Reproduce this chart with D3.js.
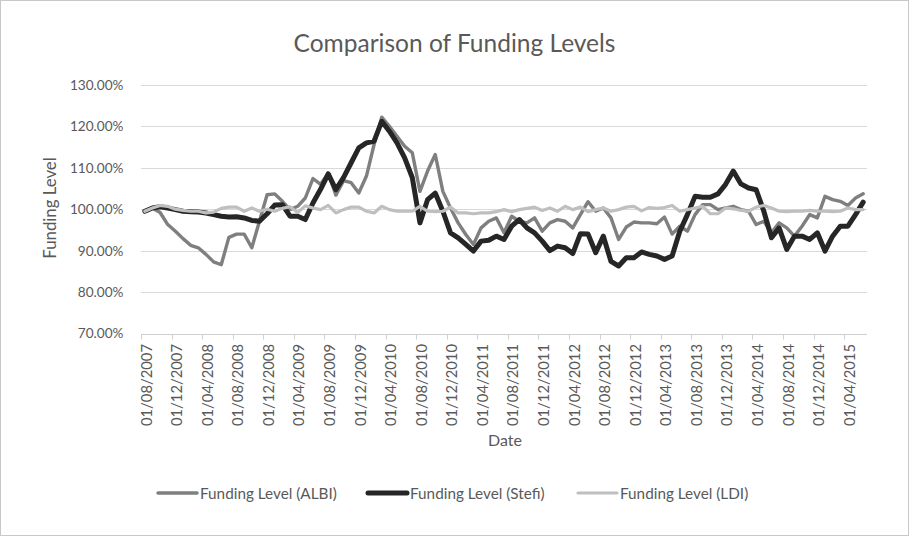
<!DOCTYPE html>
<html>
<head>
<meta charset="utf-8">
<script src="https://cdn.jsdelivr.net/npm/d3@7"></script>
<style>
  html, body { margin: 0; padding: 0; background: #fff; }
  svg text { font-family: Lato, "Open Sans", sans-serif; fill: #595959; }
</style>
</head>
<body>
<svg id="chart" width="909" height="536"></svg>
<script>
// ---- data ----
const seriesNames = ["Funding Level (ALBI)", "Funding Level (Stefi)", "Funding Level (LDI)"];
const tickLabels = ["01/08/2007","01/12/2007","01/04/2008","01/08/2008","01/12/2008","01/04/2009",
  "01/08/2009","01/12/2009","01/04/2010","01/08/2010","01/12/2010","01/04/2011","01/08/2011",
  "01/12/2011","01/04/2012","01/08/2012","01/12/2012","01/04/2013","01/08/2013","01/12/2013",
  "01/04/2014","01/08/2014","01/12/2014","01/04/2015"];
const yTicks = [70, 80, 90, 100, 110, 120, 130];

const albi = [99.5,100.3,99.2,96.3,94.7,92.9,91.3,90.7,89.1,87.3,86.6,93.2,94.0,94.0,90.7,97.1,
  103.5,103.7,101.9,99.9,100.7,102.7,107.4,106.0,108.7,103.4,106.9,106.4,103.9,108.0,115.6,122.2,
  120.0,117.6,115.2,113.6,104.3,109.2,113.2,104.3,100.3,96.7,93.9,91.5,95.5,97.1,97.9,94.3,
  98.3,97.1,96.7,97.9,94.7,96.7,97.5,97.1,95.5,98.7,101.8,99.5,100.3,97.9,92.7,95.7,
  96.9,96.7,96.7,96.5,98.1,94.0,95.9,94.7,98.7,101.1,101.1,99.9,100.3,100.7,99.9,99.5,
  96.3,97.1,94.3,96.7,95.5,93.5,95.9,98.7,97.9,103.1,102.3,101.9,100.9,102.7,103.7];

const stefi = [99.5,100.3,100.6,100.3,99.9,99.5,99.4,99.3,99.1,98.7,98.3,98.1,98.2,97.9,97.3,97.1,
  98.9,101.0,101.1,98.3,98.3,97.5,101.5,104.8,108.5,104.7,107.6,111.2,114.8,116.0,116.4,121.2,
  118.8,116.0,112.4,107.6,96.7,102.3,103.9,99.5,94.3,93.1,91.5,89.9,92.3,92.5,93.5,92.7,
  95.9,97.5,95.5,94.3,92.3,90.0,91.1,90.7,89.3,94.1,94.0,89.5,93.5,87.4,86.3,88.3,
  88.3,89.7,89.1,88.7,87.9,88.7,94.7,98.7,103.1,102.9,102.9,103.7,106.0,109.2,106.1,105.1,
  104.7,99.5,93.1,95.5,90.3,93.5,93.5,92.7,94.3,89.9,93.5,95.9,95.9,98.7,101.7];

const ldi = [99.5,100.3,100.9,100.7,100.0,99.7,99.5,99.5,99.1,99.3,100.2,100.5,100.5,99.5,100.3,99.5,
  100.0,99.5,100.2,100.6,99.2,100.8,100.3,99.9,100.9,99.1,99.9,100.5,100.5,99.5,99.1,100.7,
  99.9,99.5,99.5,99.5,100.7,99.5,99.4,99.5,100.5,99.1,99.1,98.9,99.1,99.1,99.4,99.9,
  99.4,99.9,100.2,100.5,99.7,100.3,99.5,100.7,99.9,100.5,99.4,99.9,100.3,99.5,99.9,100.5,
  100.7,99.6,100.4,100.2,100.4,100.9,99.5,99.9,100.3,100.7,98.9,98.9,100.3,100.1,99.7,99.5,
  100.5,100.9,100.3,99.5,99.4,99.5,99.5,99.7,99.5,99.5,99.4,99.5,100.3,99.9,99.9];

const seriesValues = [albi, stefi, ldi];
const seriesColors = ["#7f7f7f", "#262626", "#bfbfbf"];
const seriesWidths = [3.4, 5, 3.2];

// ---- layout ----
const W = 909, H = 536;
const plotLeft = 141, plotRight = 867, plotTop = 84.8, plotBottom = 333.6;
const nMonths = albi.length; // 95 monthly points

const svg = d3.select("#chart");

// outer border
svg.append("rect").attr("x", 0.5).attr("y", 0.5).attr("width", W - 1).attr("height", H - 1)
  .attr("fill", "none").attr("stroke", "#c8c8c8").attr("stroke-width", 1);

const x = d3.scaleLinear().domain([0, nMonths]).range([plotLeft, plotRight]);
const y = d3.scaleLinear().domain([70, 130]).range([plotBottom, plotTop]);

// title
svg.append("text").attr("x", 454.5).attr("y", 52).attr("text-anchor", "middle")
  .style("font-size", "24.5px").style("font-weight", 400).text("Comparison of Funding Levels");

// gridlines
svg.append("g").selectAll("line").data(yTicks.filter(d => d > 70)).join("line")
  .attr("x1", plotLeft).attr("x2", plotRight)
  .attr("y1", d => Math.round(y(d)) + 0.5).attr("y2", d => Math.round(y(d)) + 0.5)
  .attr("stroke", "#d9d9d9").attr("stroke-width", 1);

// y axis labels
svg.append("g").selectAll("text").data(yTicks).join("text")
  .attr("x", 123.5).attr("y", d => y(d)).attr("dy", "0.36em")
  .attr("text-anchor", "end").style("font-size", "13.6px")
  .text(d => d3.format(".2f")(d) + "%");

// x axis line and ticks
const axisY = Math.round(plotBottom) + 0.5;
svg.append("line").attr("x1", plotLeft).attr("x2", plotRight).attr("y1", axisY).attr("y2", axisY)
  .attr("stroke", "#d0d0d0").attr("stroke-width", 1);
const tickIdx = tickLabels.map((d, k) => k * 4);
svg.append("g").selectAll("line").data(tickIdx).join("line")
  .attr("x1", d => Math.round(x(d)) + 0.5).attr("x2", d => Math.round(x(d)) + 0.5)
  .attr("y1", axisY).attr("y2", axisY + 5)
  .attr("stroke", "#d0d0d0").attr("stroke-width", 1);

// x labels (rotated)
svg.append("g").selectAll("text").data(tickLabels).join("text")
  .attr("transform", (d, k) => `translate(${x(k * 4 + 0.5) + 1.5},344) rotate(-90)`)
  .attr("dy", "0.36em").attr("text-anchor", "end")
  .style("font-size", "14.8px")
  .text(d => d);

// axis titles
svg.append("text").attr("x", 505).attr("y", 446).attr("text-anchor", "middle")
  .style("font-size", "16px").text("Date");
svg.append("text").attr("transform", "translate(50,208) rotate(-90)")
  .attr("dy", "0.36em").attr("text-anchor", "middle")
  .style("font-size", "16.8px").text("Funding Level");

// series lines
const line = d3.line().x((d, i) => x(i + 0.5)).y(d => y(d)).curve(d3.curveLinear);
seriesValues.forEach((vals, s) => {
  svg.append("path").datum(vals).attr("d", line)
    .attr("fill", "none").attr("stroke", seriesColors[s])
    .attr("stroke-width", seriesWidths[s])
    .attr("stroke-linejoin", "round").attr("stroke-linecap", "round");
});

// legend
const legendX = [158, 368, 578];
const legY = 493;
const leg = svg.append("g").selectAll("g").data(seriesNames).join("g")
  .attr("transform", (d, i) => `translate(${legendX[i]},${legY})`);
leg.append("line").attr("x1", 0).attr("x2", 39).attr("y1", 0).attr("y2", 0)
  .attr("stroke", (d, i) => seriesColors[i]).attr("stroke-width", (d, i) => seriesWidths[i])
  .attr("stroke-linecap", "round");
leg.append("text").attr("x", 42).attr("y", 0).attr("dy", "0.36em")
  .style("font-size", "15.3px").text(d => d);
</script>
</body>
</html>
